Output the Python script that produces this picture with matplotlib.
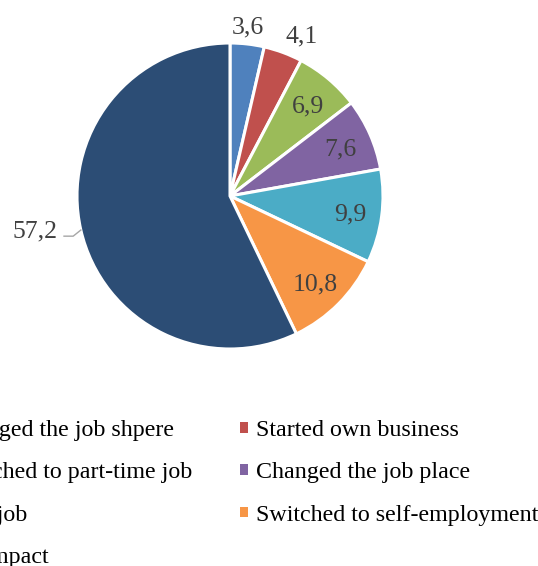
import numpy as np
import matplotlib
matplotlib.use('Agg')
import matplotlib.pyplot as plt
from matplotlib.patches import Patch

# data
categories = ['Changed the job shpere', 'Started own business',
              'Switched to part-time job', 'Changed the job place',
              'Lost job', 'Switched to self-employment', 'No impact']
values = [3.6, 4.1, 6.9, 7.6, 9.9, 10.8, 57.2]
colors = ['#4F81BD', '#C0504D', '#9BBB59', '#8064A2', '#4BACC6', '#F79646', '#2C4D75']

plt.rcParams['font.family'] = ['Liberation Serif', 'DejaVu Serif']

W, H = 538, 566
fig = plt.figure(figsize=(W / 100, H / 100), dpi=100)

# pie axes: centre (230,196) px, radius 153 px
cx, cy, r = 230, 196, 153
ax = fig.add_axes([(cx - r) / W, (H - cy - r) / H, 2 * r / W, 2 * r / H])
wedges, _ = ax.pie(values, colors=colors, startangle=90, counterclock=False,
                   wedgeprops=dict(edgecolor='white', linewidth=2.2))
ax.set_xlim(-1, 1)
ax.set_ylim(-1, 1)
ax.set_aspect('equal')
ax.axis('off')

lab_col = '#404040'
fs = 18.5
for w, v in zip(wedges, values):
    ang = np.deg2rad((w.theta1 + w.theta2) / 2)
    txt = f"{v:.1f}".replace('.', ',')
    ca, sa = np.cos(ang), np.sin(ang)
    if v < 5:
        # outside end, just beyond the rim
        ha = 'center' if abs(ca) < 0.2 else ('left' if ca > 0 else 'right')
        ax.text(1.04 * ca, 1.04 * sa + 0.03, txt, ha=ha, va='baseline',
                fontsize=fs, color=lab_col)
    elif v < 50:
        ax.text(0.79 * ca, 0.79 * sa - 0.057, txt, ha='center', va='baseline',
                fontsize=fs, color=lab_col)
    else:
        # leader line for the big slice
        x0, y0 = ca, sa
        x1, y1 = x0 - 0.05, y0 - 0.04
        x2 = x1 - 0.06
        ax.plot([x0, x1, x2], [y0, y1, y1], color='#A6A6A6', lw=1,
                clip_on=False)
        ax.text(x2 - 0.04, y1 - 0.01, txt, ha='right', va='baseline',
                fontsize=fs, color=lab_col)

# legend, row-major order like the original (matplotlib fills by column)
handles = [Patch(facecolor=c, edgecolor='none') for c in colors]
order = [0, 2, 4, 6, 1, 3, 5]
fig.legend([handles[i] for i in order], [categories[i] for i in order],
           ncol=2, loc='upper left', bbox_to_anchor=(-68 / W, 1 - 420 / H),
           frameon=False, fontsize=17.3, handlelength=0.31, handleheight=0.31,
           handletextpad=0.35, columnspacing=2.0, labelspacing=0.89,
           borderpad=0, borderaxespad=0)

fig.savefig('out.png', dpi=100)
